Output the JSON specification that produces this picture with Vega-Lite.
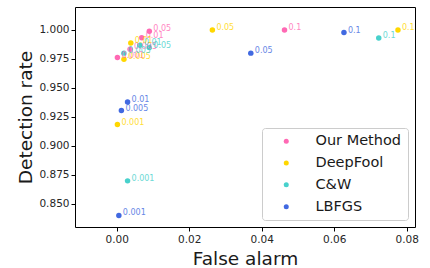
{
  "$schema": "https://vega.github.io/schema/vega-lite/v6.json",
  "width": 340,
  "height": 220,
  "autosize": "none",
  "padding": {"left": 75, "top": 7, "right": 15, "bottom": 41},
  "data": {
    "values": [
      {"method": "Our Method", "thr": "0.001", "fa": 0.0002, "dr": 0.9762},
      {"method": "Our Method", "thr": "0.005", "fa": 0.0037, "dr": 0.9834},
      {"method": "Our Method", "thr": "0.01", "fa": 0.0069, "dr": 0.9933},
      {"method": "Our Method", "thr": "0.05", "fa": 0.0090, "dr": 0.9989},
      {"method": "Our Method", "thr": "0.1", "fa": 0.0463, "dr": 1.0},
      {"method": "DeepFool", "thr": "0.001", "fa": 0.0002, "dr": 0.9184},
      {"method": "DeepFool", "thr": "0.005", "fa": 0.0020, "dr": 0.9747},
      {"method": "DeepFool", "thr": "0.01", "fa": 0.0039, "dr": 0.9887},
      {"method": "DeepFool", "thr": "0.05", "fa": 0.0264, "dr": 1.0},
      {"method": "DeepFool", "thr": "0.1", "fa": 0.0776, "dr": 1.0},
      {"method": "C&W", "thr": "0.001", "fa": 0.0030, "dr": 0.8698},
      {"method": "C&W", "thr": "0.005", "fa": 0.0020, "dr": 0.9800},
      {"method": "C&W", "thr": "0.01", "fa": 0.0064, "dr": 0.9868},
      {"method": "C&W", "thr": "0.05", "fa": 0.0090, "dr": 0.9848},
      {"method": "C&W", "thr": "0.1", "fa": 0.0723, "dr": 0.9931},
      {"method": "LBFGS", "thr": "0.001", "fa": 0.0006, "dr": 0.8400},
      {"method": "LBFGS", "thr": "0.005", "fa": 0.0013, "dr": 0.9305},
      {"method": "LBFGS", "thr": "0.01", "fa": 0.0030, "dr": 0.9379},
      {"method": "LBFGS", "thr": "0.05", "fa": 0.0370, "dr": 0.9800},
      {"method": "LBFGS", "thr": "0.1", "fa": 0.0627, "dr": 0.9978}
    ]
  },
  "encoding": {
    "x": {
      "field": "fa", "type": "quantitative",
      "scale": {"domain": [-0.0115, 0.0823], "nice": false, "zero": false},
      "axis": {"title": "False alarm", "values": [0, 0.02, 0.04, 0.06, 0.08], "format": ".2f"}
    },
    "y": {
      "field": "dr", "type": "quantitative",
      "scale": {"domain": [0.83, 1.0198], "nice": false, "zero": false},
      "axis": {"title": "Detection rate", "values": [0.85, 0.875, 0.9, 0.925, 0.95, 0.975, 1.0], "format": ".3f", "titlePadding": 3, "labelPadding": 2}
    },
    "color": {
      "field": "method", "type": "nominal",
      "scale": {
        "domain": ["Our Method", "DeepFool", "C&W", "LBFGS"],
        "range": ["#ff69b4", "#ffd700", "#48d1cc", "#4169e1"]
      },
      "legend": {"title": null}
    }
  },
  "layer": [
    {
      "mark": {"type": "point", "filled": true, "opacity": 1, "size": 30, "shape": "circle"}
    },
    {
      "mark": {"type": "text", "align": "left", "baseline": "alphabetic", "dx": 4, "dy": 0, "fontSize": 8, "font": "DejaVu Sans", "opacity": 0.8},
      "encoding": {
        "text": {"field": "thr"},
        "color": {"field": "method", "type": "nominal", "legend": null}
      }
    }
  ],
  "config": {
    "view": {"stroke": "#000000", "strokeWidth": 1},
    "axis": {
      "grid": false,
      "domain": false,
      "ticks": true,
      "tickColor": "#000000",
      "tickSize": 4,
      "labelFont": "DejaVu Sans",
      "labelFontSize": 10.5,
      "labelColor": "#262626",
      "labelPadding": 3,
      "titleFont": "DejaVu Sans",
      "titleFontSize": 18.5,
      "titleFontWeight": "normal",
      "titleColor": "#1a1a1a",
      "titlePadding": 5
    },
    "legend": {
      "orient": "bottom-right",
      "offset": 7,
      "padding": 6,
      "strokeColor": "#cccccc",
      "cornerRadius": 3,
      "fillColor": "white",
      "labelFont": "DejaVu Sans",
      "labelFontSize": 14.5,
      "labelColor": "#1a1a1a",
      "symbolSize": 25,
      "symbolType": "circle",
      "symbolOffset": 11,
      "labelOffset": 22,
      "rowPadding": 6.8,
      "symbolStrokeWidth": 0
    }
  }
}
